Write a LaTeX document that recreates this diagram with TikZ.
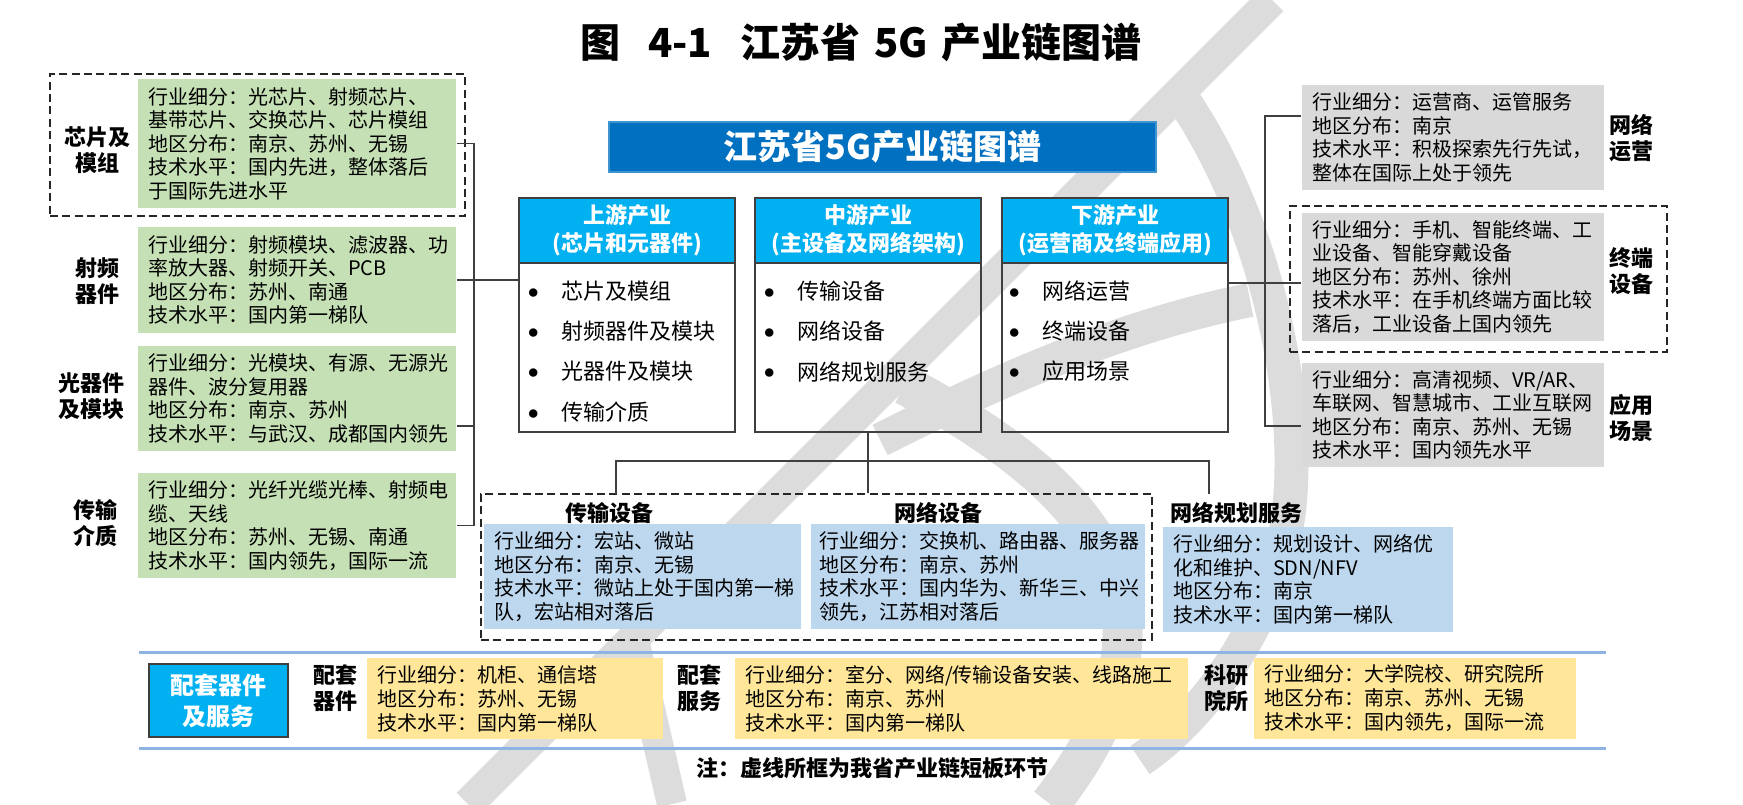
\documentclass[tikz,border=0pt]{standalone}
\usepackage{fontspec}
\setmainfont{Noto Sans CJK SC}
\usetikzlibrary{positioning}

\definecolor{chipgreen}{HTML}{C5E0B4}
\definecolor{opsgray}{HTML}{D9D9D9}
\definecolor{eqblue}{HTML}{BDD7EE}
\definecolor{supyellow}{HTML}{FFE699}
\definecolor{headcyan}{HTML}{00B0F0}
\definecolor{bannerblue}{HTML}{0070C0}
\definecolor{linegray}{HTML}{3F3F3F}
\definecolor{wmgray}{HTML}{DCDCDC}
\definecolor{ruleblue}{HTML}{8EB4E3}

\newcommand{\bul}{\makebox[17pt][l]{\raisebox{0.6pt}{$\bullet$}}}

\begin{document}
\begin{tikzpicture}
  [
  x=0.5pt, y=-0.5pt,
  font=\fontsize{10pt}{11.75pt}\selectfont,
  line width=0.8pt,
  conn/.style={draw=linegray, line width=0.8pt},
  wm/.style={draw=wmgray, line cap=butt},
  rule/.style={draw=ruleblue, line width=1.5pt},
  infobox/.style={inner xsep=5pt, inner ysep=0pt, align=left},
  greenbox/.style={infobox, fill=chipgreen, text width=149pt},
  graybox/.style={infobox, fill=opsgray, text width=141pt},
  bluebox/.style={infobox, fill=eqblue, minimum height=52.5pt},
  yellowbox/.style={infobox, fill=supyellow, minimum height=40.5pt, font=\fontsize{10pt}{12pt}\selectfont},
  dashbox/.style={draw=black!85, line width=1.1pt, dash pattern=on 4pt off 2.2pt, inner sep=0pt},
  sidelabel/.style={font=\bfseries\fontsize{11pt}{13pt}\selectfont, align=center, inner sep=0pt},
  colbox/.style={draw=linegray, line width=1pt, minimum height=117pt, inner sep=0pt},
  colhead/.style={fill=headcyan, draw=linegray, line width=1pt, text=white, font=\bfseries\fontsize{11pt}{14pt}\selectfont, align=center, minimum height=32.5pt, inner sep=0pt, anchor=north},
  item/.style={anchor=west, inner sep=0pt, font=\fontsize{11pt}{13pt}\selectfont},
  ]
  \useasboundingbox (0,0) rectangle (1743,804);

  % watermark
  \draw[wm, line width=16pt] (1272,0) -- (468,804);
  \draw[wm, line width=17pt] (1180,95) .. controls (1260,210) and (1300,380) .. (1290,500) .. controls (1280,620) and (1200,720) .. (1140,760);
  \draw[wm, line width=17pt] (1250,300) .. controls (1100,330) and (960,400) .. (880,440);
  \draw[wm, line width=20pt] (905,385) .. controls (1080,480) and (1210,600) .. (1050,804);
  \draw[wm, line width=15pt] (634,640) -- (672,804);

  \node[font=\bfseries\fontsize{20pt}{20pt}\selectfont] (title) at (861,42)
    {图\hspace{0.7em}4-1\hspace{0.7em}江苏省\hspace{0.35em}5G\hspace{0.35em}产业链图谱};

  % upstream parts
  \node[dashbox, minimum width=207.5pt, minimum height=71pt] (dchip) at (257.5,145) {};
  \node[greenbox, minimum height=64.5pt] (chip) at (297,143.5)
    {行业细分：光芯片、射频芯片、\\基带芯片、交换芯片、芯片模组\\地区分布：南京、苏州、无锡\\技术水平：国内先进，整体落后\\于国际先进水平};
  \node[greenbox, minimum height=53pt] (rf) at (297,280)
    {行业细分：射频模块、滤波器、功\\率放大器、射频开关、PCB\\地区分布：苏州、南通\\技术水平：国内第一梯队};
  \node[greenbox, minimum height=52.5pt] (opt) at (297,398.5)
    {行业细分：光模块、有源、无源光\\器件、波分复用器\\地区分布：南京、苏州\\技术水平：与武汉、成都国内领先};
  \node[greenbox, minimum height=52.5pt] (trans) at (297,525.5)
    {行业细分：光纤光缆光棒、射频电\\缆、天线\\地区分布：苏州、无锡、南通\\技术水平：国内领先，国际一流};
  \node[sidelabel] (chiplab) at (97,150) {芯片及\\模组};
  \node[sidelabel] (rflab) at (97,281.5) {射频\\器件};
  \node[sidelabel] (optlab) at (91,396.5) {光器件\\及模块};
  \node[sidelabel] (translab) at (95,523.5) {传输\\介质};

  % banner and the three columns
  \node[fill=bannerblue, draw=bannerblue!75!white, minimum width=273.5pt, minimum height=25pt,
    text=white, font=\bfseries\fontsize{17pt}{17pt}\selectfont] (banner) at (882.5,147) {江苏省5G产业链图谱};

  \node[colbox, minimum width=108pt] (up) at (627,315) {};
  \node[colbox, minimum width=113pt] (mid) at (868,315) {};
  \node[colbox, minimum width=113pt] (down) at (1115,315) {};
  \node[colhead, minimum width=108pt] (uphead) at (up.north) {上游产业\\(芯片和元器件)};
  \node[colhead, minimum width=113pt] (midhead) at (mid.north) {中游产业\\(主设备及网络架构)};
  \node[colhead, minimum width=113pt] (downhead) at (down.north) {下游产业\\(运营商及终端应用)};

  \foreach \t [count=\i] in {芯片及模组,射频器件及模块,光器件及模块,传输介质}
    \node[item] (up\i) at (527,{250.7+40.3*\i}) {\bul\t};
  \foreach \t [count=\i] in {传输设备,网络设备,网络规划服务}
    \node[item] (mid\i) at (763,{250.7+40.3*\i}) {\bul\t};
  \foreach \t [count=\i] in {网络运营,终端设备,应用场景}
    \node[item] (down\i) at (1008,{250.7+40.3*\i}) {\bul\t};

  % midstream parts
  \node[dashbox, minimum width=335.5pt, minimum height=73pt] (dmid) at (816.5,567) {};
  \node[sidelabel] (transT) at (609,513) {传输设备};
  \node[sidelabel] (netT) at (938,513) {网络设备};
  \node[sidelabel] (planT) at (1236,513) {网络规划服务};
  \node[bluebox, text width=148.5pt] (transeq) at (642.5,576.5)
    {行业细分：宏站、微站\\地区分布：南京、无锡\\技术水平：微站上处于国内第一梯\\队，宏站相对落后};
  \node[bluebox, inner xsep=4pt, text width=159pt] (neteq) at (978,576.5)
    {行业细分：交换机、路由器、服务器\\地区分布：南京、苏州\\技术水平：国内华为、新华三、中兴\\领先，江苏相对落后};
  \node[bluebox, text width=135pt] (plan) at (1308,579.5)
    {行业细分：规划设计、网络优\\化和维护、SDN/NFV\\地区分布：南京\\技术水平：国内第一梯队};

  % downstream parts
  \node[dashbox, minimum width=188.5pt, minimum height=73pt] (dterm) at (1478.5,279) {};
  \node[graybox, minimum height=52.5pt] (ops) at (1453,137.5)
    {行业细分：运营商、运管服务\\地区分布：南京\\技术水平：积极探索先行先试，\\整体在国际上处于领先};
  \node[graybox, minimum height=64pt] (term) at (1453,277)
    {行业细分：手机、智能终端、工\\业设备、智能穿戴设备\\地区分布：苏州、徐州\\技术水平：在手机终端方面比较\\落后，工业设备上国内领先};
  \node[graybox, minimum height=52pt] (app) at (1453,415)
    {行业细分：高清视频、VR/AR、\\车联网、智慧城市、工业互联网\\地区分布：南京、苏州、无锡\\技术水平：国内领先水平};
  \node[sidelabel] (opslab) at (1631,138.5) {网络\\运营};
  \node[sidelabel] (termlab) at (1631,271.5) {终端\\设备};
  \node[sidelabel] (applab) at (1631,417.5) {应用\\场景};

  % connectors
  \draw[conn] (chip.east) -- ++(17,0) |- (trans.east);
  \draw[conn] ([yshift=-13.75pt]opt.east) -- ++(17,0);
  \draw[conn] (rf.east) -- (rf.east -| up.west);
  \draw[conn] (mid.south) -- (mid.south |- dmid.north);
  \coordinate (busL) at (616,494);
  \coordinate (busR) at (1209,494);
  \draw[conn] (busL) -- ++(0,-33) -| (busR);
  \draw[conn] ([yshift=-3pt]term.west) -- ++(-74,0);
  \draw[conn] ([yshift=10.75pt]ops.west) -- ++(-36,0) |- ([yshift=-5.5pt]app.west);

  % supporting parts
  \draw[rule] (139,652) -- (1606,652);
  \draw[rule] (139,748) -- (1606,748);
  \node[fill=headcyan, draw=linegray, line width=0.8pt, minimum width=69.5pt, minimum height=36.5pt,
    inner sep=0pt, align=center, text=white, font=\bfseries\fontsize{12pt}{15.5pt}\selectfont] (sup) at (218.5,700.5) {配套器件\\及服务};
  \node[sidelabel] (sup1lab) at (335,688) {配套\\器件};
  \node[yellowbox, text width=138pt] (sup1) at (515,698.5)
    {行业细分：机柜、通信塔\\地区分布：苏州、无锡\\技术水平：国内第一梯队};
  \node[sidelabel] (sup2lab) at (699,688) {配套\\服务};
  \node[yellowbox, text width=216.5pt] (sup2) at (961.5,698.5)
    {行业细分：室分、网络/传输设备安装、线路施工\\地区分布：南京、苏州\\技术水平：国内第一梯队};
  \node[sidelabel] (sup3lab) at (1226,688) {科研\\院所};
  \node[yellowbox, text width=151pt] (sup3) at (1415,698.5)
    {行业细分：大学院校、研究院所\\地区分布：南京、苏州、无锡\\技术水平：国内领先，国际一流};

  \node[font=\bfseries\fontsize{11pt}{11pt}\selectfont] (note) at (872,768) {注：虚线所框为我省产业链短板环节};
\end{tikzpicture}
\end{document}
